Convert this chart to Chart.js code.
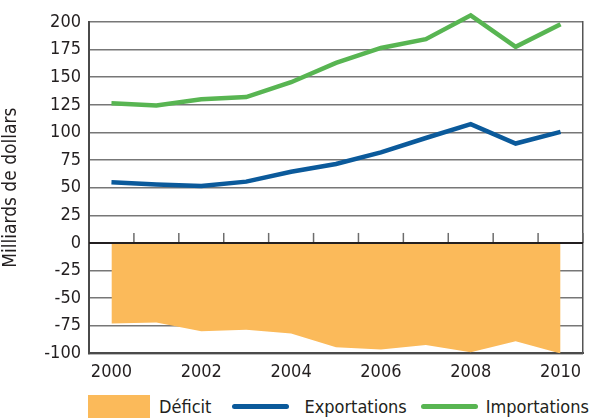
<!DOCTYPE html>
<html>
<head>
<meta charset="utf-8">
<script src="https://cdn.jsdelivr.net/npm/chart.js@4/dist/chart.umd.min.js"></script>
<style>
  body { margin: 0; background: #fff; }
  #wrap { position: relative; width: 591px; height: 418px; overflow: hidden; }
  #wrap canvas { position: absolute; left: 0; top: 0; }
  #legende {
    position: absolute; left: 88px; top: 395px; height: 23px;
    display: flex; align-items: center;
    font-family: "DejaVu Sans Condensed", "Liberation Sans Narrow", sans-serif;
    font-size: 18px; color: #231f20;
  }
  #legende .item { display: flex; align-items: center; }
  #legende .swatch { width: 62px; height: 23px; margin-right: 9px; }
  #legende .ligne { width: 57px; height: 5px; border-radius: 3px; margin-right: 15px; }
</style>
</head>
<body>
<div id="wrap">
  <canvas id="graphique" width="591" height="392"></canvas>
  <div id="legende"></div>
</div>
<script>
// données (milliards de dollars)
var annees = ['2000', '2001', '2002', '2003', '2004', '2005', '2006', '2007', '2008', '2009', '2010'];
var exportations = [55, 53, 51.5, 55.5, 64.5, 71.5, 82, 95, 107.5, 90, 100.5];
var importations = [126.5, 124.5, 130, 132, 145.5, 163, 176.5, 184.5, 206, 177.5, 198];
var deficit = [-73, -72, -80, -78.5, -82, -94.5, -96.5, -92.5, -99, -89, -100];

var police = '"DejaVu Sans Condensed", "Liberation Sans Narrow", sans-serif';
var couleurs = { deficit: '#fbba5a', exportations: '#0b5a9b', importations: '#58b552' };

// ligne du zéro + petits traits entre les années
var ligneZero = {
    id: 'ligneZero',
    afterDatasetsDraw: function (chart) {
        var ctx = chart.ctx, x = chart.scales.x, y = chart.scales.y;
        var y0 = y.getPixelForValue(0);
        ctx.save();
        ctx.strokeStyle = '#6d6d6d';
        ctx.lineWidth = 1.5;
        for (var i = 0; i < annees.length; i++) {
            var xb = (x.getPixelForValue(i) + x.getPixelForValue(i + 1)) / 2;
            ctx.beginPath();
            ctx.moveTo(xb, y0);
            ctx.lineTo(xb, y0 - 10);
            ctx.stroke();
        }
        ctx.strokeStyle = '#231f20';
        ctx.lineWidth = 2;
        ctx.beginPath();
        ctx.moveTo(chart.chartArea.left, y0);
        ctx.lineTo(chart.chartArea.right, y0);
        ctx.stroke();
        ctx.restore();
    }
};

var data = {
    labels: annees,
    datasets: [
        {
            label: 'Déficit',
            data: deficit,
            fill: 'origin',
            backgroundColor: couleurs.deficit,
            borderWidth: 0,
            pointRadius: 0,
            tension: 0,
            order: 3
        },
        {
            label: 'Exportations',
            data: exportations,
            borderColor: couleurs.exportations,
            backgroundColor: couleurs.exportations,
            borderWidth: 4.5,
            pointRadius: 0,
            tension: 0,
            fill: false,
            clip: false,
            order: 2
        },
        {
            label: 'Importations',
            data: importations,
            borderColor: couleurs.importations,
            backgroundColor: couleurs.importations,
            borderWidth: 4.5,
            pointRadius: 0,
            tension: 0,
            fill: false,
            clip: false,
            order: 1
        }
    ]
};

var options = {
    responsive: false,
    animation: false,
    layout: { padding: { top: 22, right: 8, left: 0, bottom: 9 } },
    plugins: { legend: { display: false }, tooltip: { enabled: false } },
    scales: {
        x: {
            offset: true,
            grid: { display: false },
            border: { display: true, color: '#4a4a4a', width: 2 },
            ticks: {
                color: '#231f20',
                font: { family: police, size: 18 },
                padding: 0,
                maxRotation: 0,
                autoSkip: false,
                callback: function (v, i) { return i % 2 === 0 ? annees[i] : ''; }
            }
        },
        y: {
            min: -100,
            max: 200,
            afterFit: function (axis) { axis.width = 89; },
            grid: {
                color: '#777777',
                lineWidth: 1.5,
                drawTicks: false
            },
            border: { display: true, color: '#4a4a4a', width: 2 },
            ticks: {
                stepSize: 25,
                autoSkip: false,
                color: '#231f20',
                font: { family: police, size: 18 },
                padding: 8
            },
            title: {
                display: true,
                text: 'Milliards de dollars',
                color: '#231f20',
                font: { family: police, size: 19 },
                padding: 0
            }
        },
        y2: {
            position: 'right',
            min: -100,
            max: 200,
            afterFit: function (axis) { axis.width = 0; },
            grid: { display: false },
            border: { display: true, color: '#555555', width: 1.5 },
            ticks: { display: false }
        }
    }
};

var ctx = document.getElementById('graphique').getContext('2d');
var chart = new Chart(ctx, { type: 'line', data: data, options: options, plugins: [ligneZero] });

// légende en HTML à partir des séries
var legende = document.getElementById('legende');
var marges = [21, 14, 0];
data.datasets.forEach(function (ds, i) {
    var item = document.createElement('div');
    item.className = 'item';
    item.style.marginRight = marges[i] + 'px';
    var marque = document.createElement('div');
    marque.className = i === 0 ? 'swatch' : 'ligne';
    marque.style.background = i === 0 ? ds.backgroundColor : ds.borderColor;
    if (i === 2) { marque.style.marginRight = '8px'; }
    var texte = document.createElement('span');
    texte.textContent = ds.label;
    item.appendChild(marque);
    item.appendChild(texte);
    legende.appendChild(item);
});
</script>
</body>
</html>
